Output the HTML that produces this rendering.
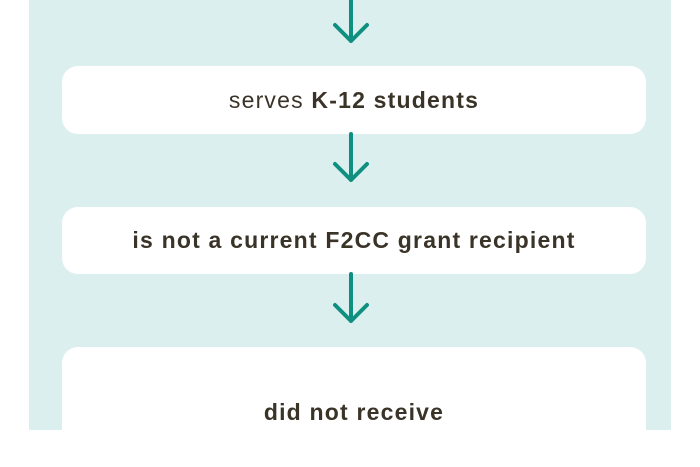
<!DOCTYPE html>
<html><head><style>
body{margin:0;width:700px;height:430px;background:#fff;position:relative;overflow:hidden;font-family:"Liberation Sans",sans-serif}
.panel{position:absolute;left:29px;top:0;width:642px;height:430px;background:#dbefee}
.box{position:absolute;left:62px;width:584px;background:#fff;border-radius:16px;display:flex;align-items:center;justify-content:center;color:#3a3328;font-size:23px;letter-spacing:1.2px}
b{font-weight:bold}
svg{position:absolute;left:0;top:0}
</style></head><body>
<div class="panel"></div>
<div class="box" style="top:66px;height:68px">serves&nbsp;<b>K-12 students</b></div>
<div class="box" style="top:207px;height:67px"><b>is not a current F2CC grant recipient</b></div>
<div class="box" style="top:347px;height:120px;align-items:flex-start"><b style="margin-top:52px">did not receive</b></div>
<svg width="700" height="430" fill="none" stroke="#0f8f80" stroke-width="4" stroke-linecap="round" stroke-linejoin="round">
<path d="M351 0V41M335 25L351 41L367 25"/>
<path d="M351 134V180M335 164L351 180L367 164"/>
<path d="M351 274V321M335 305L351 321L367 305"/>
</svg>
</body></html>
